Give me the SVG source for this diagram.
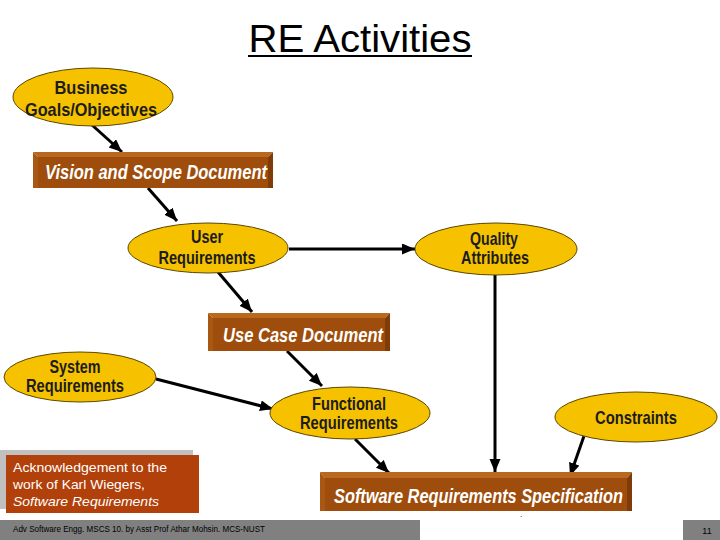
<svg xmlns="http://www.w3.org/2000/svg" width="720" height="540" viewBox="0 0 720 540">
<style>
.ell{fill:#f6c200;stroke:#5a4600;stroke-width:1}
.lbl{font-family:"Liberation Sans",Arial,sans-serif;font-weight:bold;font-size:19px;fill:#1c1c1c}
.doc{font-family:"Liberation Sans",Arial,sans-serif;font-weight:bold;font-style:italic;font-size:20px;fill:#ffffff}
.front{fill:#9e4d0c}
.top{fill:#b9691f}
.side{fill:#7f3c08}
.left{fill:#a95813}
.con{stroke:#000;stroke-width:3;fill:none;marker-end:url(#ah)}
.ack{font-family:"Liberation Sans",Arial,sans-serif;font-size:13px;fill:#ffffff}
</style>
<defs>
<marker id="ah" markerUnits="userSpaceOnUse" markerWidth="14" markerHeight="12" refX="13" refY="5.5" orient="auto">
<path d="M0,0 L13,5.5 L0,11 z" fill="#000"/>
</marker>
</defs>
<rect width="720" height="540" fill="#ffffff"/>

<g id="title">
<text x="360" y="52" text-anchor="middle" font-family="Liberation Sans,Arial,sans-serif" font-size="39" fill="#000" textLength="223" lengthAdjust="spacingAndGlyphs">RE Activities</text>
<rect x="248" y="55" width="224" height="2" fill="#000"/>
</g>

<g id="connectors">
<line class="con" x1="92" y1="125" x2="122" y2="152"/>
<line class="con" x1="148" y1="188" x2="177" y2="221"/>
<line class="con" x1="289" y1="249" x2="415" y2="249"/>
<line class="con" x1="218" y1="272" x2="252" y2="312"/>
<line class="con" x1="287" y1="351" x2="322" y2="386"/>
<line class="con" x1="156" y1="379" x2="273" y2="409"/>
<line class="con" x1="495" y1="275" x2="495" y2="472"/>
<line class="con" x1="355" y1="439" x2="389" y2="473"/>
<line class="con" x1="584" y1="436" x2="570" y2="476"/>
</g>

<g id="business">
<ellipse class="ell" cx="93" cy="97" rx="80" ry="29"/>
<text class="lbl" x="91" y="94" text-anchor="middle" textLength="73" lengthAdjust="spacingAndGlyphs">Business</text>
<text class="lbl" x="91" y="116" text-anchor="middle" textLength="132" lengthAdjust="spacingAndGlyphs">Goals/Objectives</text>
</g>

<g id="vision">
<polygon class="top" points="33,152 273,152 268,157 38,157"/>
<polygon class="left" points="33,152 38,157 38,188 33,188"/>
<polygon class="side" points="273,152 273,188 268,188 268,157"/>
<rect class="front" x="38" y="157" width="230" height="31"/>
<text class="doc" x="45" y="179" textLength="222" lengthAdjust="spacingAndGlyphs">Vision and Scope Document</text>
</g>

<g id="user">
<ellipse class="ell" cx="208" cy="248" rx="80" ry="25"/>
<text class="lbl" x="207" y="243" text-anchor="middle" textLength="32" lengthAdjust="spacingAndGlyphs">User</text>
<text class="lbl" x="207" y="264" text-anchor="middle" textLength="97" lengthAdjust="spacingAndGlyphs">Requirements</text>
</g>

<g id="quality">
<ellipse class="ell" cx="496" cy="249" rx="81" ry="26"/>
<text class="lbl" x="494" y="245" text-anchor="middle" textLength="48" lengthAdjust="spacingAndGlyphs">Quality</text>
<text class="lbl" x="495" y="264" text-anchor="middle" textLength="68" lengthAdjust="spacingAndGlyphs">Attributes</text>
</g>

<g id="usecase">
<polygon class="top" points="208,313 390,313 385,318 213,318"/>
<polygon class="left" points="208,313 213,318 213,351 208,351"/>
<polygon class="side" points="390,313 390,351 385,351 385,318"/>
<rect class="front" x="213" y="318" width="172" height="33"/>
<text class="doc" x="223" y="342" textLength="160" lengthAdjust="spacingAndGlyphs">Use Case Document</text>
</g>

<g id="system">
<ellipse class="ell" cx="80" cy="377" rx="76" ry="25"/>
<text class="lbl" x="75" y="373" text-anchor="middle" textLength="51" lengthAdjust="spacingAndGlyphs">System</text>
<text class="lbl" x="75" y="392" text-anchor="middle" textLength="98" lengthAdjust="spacingAndGlyphs">Requirements</text>
</g>

<g id="functional">
<ellipse class="ell" cx="350" cy="413" rx="80" ry="26"/>
<text class="lbl" x="349" y="410" text-anchor="middle" textLength="74" lengthAdjust="spacingAndGlyphs">Functional</text>
<text class="lbl" x="349" y="429" text-anchor="middle" textLength="98" lengthAdjust="spacingAndGlyphs">Requirements</text>
</g>

<g id="constraints">
<ellipse class="ell" cx="636" cy="417" rx="81" ry="25"/>
<text class="lbl" x="636" y="424" text-anchor="middle" textLength="82" lengthAdjust="spacingAndGlyphs">Constraints</text>
</g>

<g id="srs">
<polygon class="top" points="320,472 632,472 627,478 325,478"/>
<polygon class="left" points="320,472 325,478 325,511 320,511"/>
<polygon class="side" points="632,472 632,511 627,511 627,478"/>
<rect class="front" x="325" y="478" width="302" height="33"/>
<text class="doc" x="334" y="503" textLength="289" lengthAdjust="spacingAndGlyphs">Software Requirements Specification</text>
</g>
<text x="520" y="517" font-family="Liberation Sans,Arial,sans-serif" font-size="9" fill="#333">.</text>

<g id="ack">
<rect x="0" y="450" width="193" height="59" fill="#c0c0c0"/>
<rect x="6" y="455" width="193" height="58" fill="#b2400a"/>
<text class="ack" x="13" y="472" textLength="154" lengthAdjust="spacingAndGlyphs">Acknowledgement to the</text>
<text class="ack" x="13" y="489" textLength="132" lengthAdjust="spacingAndGlyphs">work of Karl Wiegers,</text>
<text class="ack" x="13" y="506" font-style="italic" textLength="146" lengthAdjust="spacingAndGlyphs">Software Requirements</text>
</g>

<g id="footer">
<rect x="0" y="520" width="420" height="20" fill="#808080"/>
<text x="13" y="532" font-family="Liberation Sans,Arial,sans-serif" font-size="8.5" fill="#000" textLength="252" lengthAdjust="spacingAndGlyphs">Adv Software Engg. MSCS 10. by Asst Prof Athar Mohsin. MCS-NUST</text>
<rect x="683" y="520" width="37" height="20" fill="#808080"/>
<text x="707" y="534" text-anchor="middle" font-family="Liberation Sans,Arial,sans-serif" font-size="9" fill="#000">11</text>
</g>
</svg>
